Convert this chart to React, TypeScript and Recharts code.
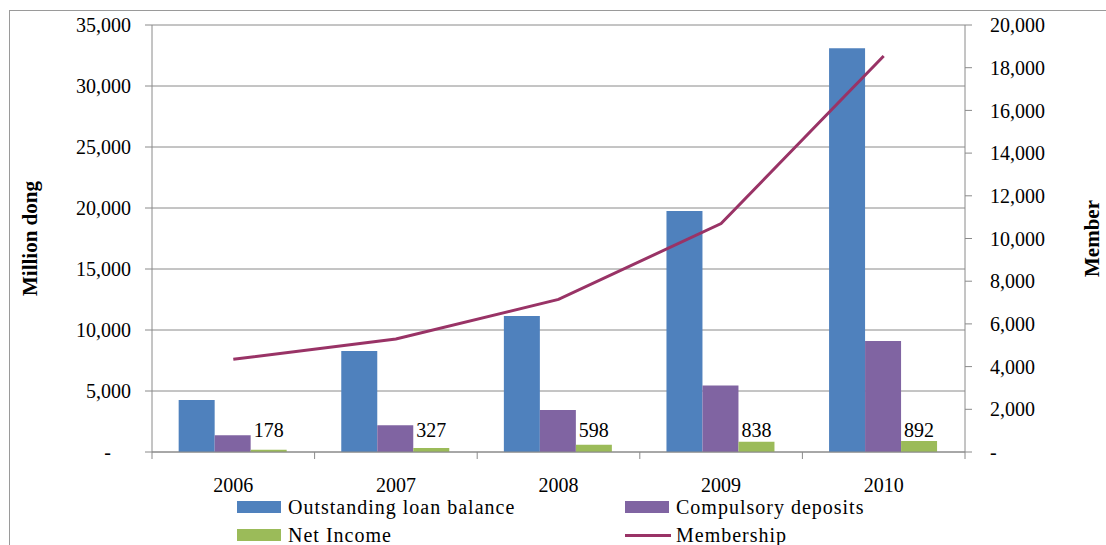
import React from 'react';
import { ComposedChart, Bar, Line, XAxis, YAxis, CartesianGrid, Legend, LabelList } from 'recharts';

// Yearly figures (million dong, members)
const years = ['2006', '2007', '2008', '2009', '2010'];
const loanBalance = [4260, 8280, 11150, 19750, 33100];
const compulsoryDeposits = [1380, 2200, 3440, 5450, 9100];
const netIncome = [178, 327, 598, 838, 892];
const membership = [4340, 5290, 7150, 10700, 18550];

const moneyTicks = [0, 5000, 10000, 15000, 20000, 25000, 30000, 35000];
const memberTicks = [0, 2000, 4000, 6000, 8000, 10000, 12000, 14000, 16000, 18000, 20000];

const data = years.map((year, i) => ({
  year,
  loan: loanBalance[i],
  deposits: compulsoryDeposits[i],
  income: netIncome[i],
  members: membership[i],
}));

const FONT = '"Liberation Serif", "Times New Roman", serif';
const GRID = '#8a8a8a';
const BLUE = '#4f81bd';
const PURPLE = '#8064a2';
const GREEN = '#9bbb59';
const PLUM = '#993366';

const WIDTH = 1106;
const HEIGHT = 545;
const margin = { top: 25, right: 41, bottom: 53, left: 52 };
const AXIS_W = 100;
const XAXIS_H = 40;
const PLOT_LEFT = margin.left + AXIS_W;
const PLOT_RIGHT = WIDTH - margin.right - AXIS_W;
const AXIS_Y = HEIGHT - margin.bottom - XAXIS_H;
const BAND = (PLOT_RIGHT - PLOT_LEFT) / years.length;

const fmt = (v: number) => (v === 0 ? '-\u00a0\u00a0\u00a0\u00a0' : v.toLocaleString('en-US'));
const fmtRight = (v: number) => (v === 0 ? '-' : v.toLocaleString('en-US'));

// category labels centred, tick marks on the category boundaries
const CategoryTick = (props: any) => {
  const { x, payload, index } = props;
  const left = x - BAND / 2;
  return (
    <g>
      <line x1={left} x2={left} y1={AXIS_Y} y2={AXIS_Y + 7} stroke={GRID} />
      {index === years.length - 1 && (
        <line x1={x + BAND / 2} x2={x + BAND / 2} y1={AXIS_Y} y2={AXIS_Y + 7} stroke={GRID} />
      )}
      <text x={x} y={AXIS_Y + 39.5} textAnchor="middle" fontSize={20} fontFamily={FONT} fill="#000">
        {payload.value}
      </text>
    </g>
  );
};

const IncomeLabel = (props: any) => {
  const { x, y, width, height, value } = props;
  return (
    <text x={x + width / 2} y={y + height - 15} textAnchor="middle" fontSize={20} fontFamily={FONT} fill="#000">
      {value}
    </text>
  );
};

const axisTitle = (text: string, cx: number) => (props: any) => {
  const vb = props.viewBox;
  const cy = vb.y + vb.height / 2;
  return (
    <text
      x={cx}
      y={cy}
      transform={`rotate(-90 ${cx} ${cy})`}
      textAnchor="middle"
      dominantBaseline="central"
      fontSize={21}
      fontWeight="bold"
      fontFamily={FONT}
      fill="#000"
    >
      {text}
    </text>
  );
};

const legendRows = [
  [
    { name: 'Outstanding loan balance', color: BLUE, kind: 'bar' },
    { name: 'Compulsory deposits', color: PURPLE, kind: 'bar' },
  ],
  [
    { name: 'Net Income', color: GREEN, kind: 'bar' },
    { name: 'Membership', color: PLUM, kind: 'line' },
  ],
];

const ChartLegend = () => (
  <div style={{ fontFamily: FONT, fontSize: 20, letterSpacing: 1, color: '#000' }}>
    {legendRows.map((row, r) => (
      <div key={r} style={{ display: 'flex', height: 28, alignItems: 'center' }}>
        {row.map((item) => (
          <div key={item.name} style={{ width: 388, display: 'flex', alignItems: 'center' }}>
            {item.kind === 'bar' ? (
              <span style={{ width: 44, height: 12, background: item.color, marginRight: 7 }} />
            ) : (
              <span style={{ width: 46, height: 3, background: item.color, marginRight: 5 }} />
            )}
            <span style={{ whiteSpace: 'nowrap' }}>{item.name}</span>
          </div>
        ))}
      </div>
    ))}
  </div>
);

export default function App() {
  return (
    <div style={{ position: 'relative', width: WIDTH, height: HEIGHT, overflow: 'hidden', background: '#fff' }}>
      <style>{'body{margin:0;overflow:hidden}'}</style>
      <div
        style={{
          position: 'absolute',
          left: 9,
          top: 10,
          width: 1200,
          height: 600,
          borderLeft: '1px solid #9a9a9a',
          borderTop: '1px solid #9a9a9a',
        }}
      />
      <ComposedChart
        width={WIDTH}
        height={HEIGHT}
        data={data}
        margin={margin}
        barCategoryGap="16.4%"
        barGap={0}
        style={{ position: 'absolute', left: 0, top: 0 }}
      >
        <CartesianGrid vertical={false} stroke={GRID} yAxisId="left" />
        <XAxis
          dataKey="year"
          height={XAXIS_H}
          axisLine={{ stroke: GRID }}
          tickLine={false}
          tick={(p: any) => <CategoryTick {...p} />}
          interval={0}
        />
        <YAxis
          yAxisId="left"
          width={AXIS_W}
          domain={[0, 35000]}
          ticks={moneyTicks}
          tickFormatter={fmt}
          axisLine={{ stroke: GRID }}
          tickLine={{ stroke: GRID }}
          tickSize={7}
          tickMargin={14}
          tick={{ fontSize: 20, fontFamily: FONT, fill: '#000' }}
          label={{ content: axisTitle('Million dong', 30) }}
        />
        <YAxis
          yAxisId="right"
          orientation="right"
          width={AXIS_W}
          domain={[0, 20000]}
          ticks={memberTicks}
          tickFormatter={fmtRight}
          axisLine={{ stroke: GRID }}
          tickLine={{ stroke: GRID }}
          tickSize={7}
          tickMargin={18}
          tick={{ fontSize: 20, fontFamily: FONT, fill: '#000', textAnchor: 'start' }}
          label={{ content: axisTitle('Member', 1092) }}
        />
        <Bar yAxisId="left" dataKey="loan" name="Outstanding loan balance" fill={BLUE} isAnimationActive={false} />
        <Bar yAxisId="left" dataKey="deposits" name="Compulsory deposits" fill={PURPLE} isAnimationActive={false} />
        <Bar yAxisId="left" dataKey="income" name="Net Income" fill={GREEN} isAnimationActive={false}>
          <LabelList dataKey="income" content={(p: any) => <IncomeLabel {...p} />} />
        </Bar>
        <Line
          yAxisId="right"
          dataKey="members"
          name="Membership"
          type="linear"
          stroke={PLUM}
          strokeWidth={3}
          dot={false}
          activeDot={false}
          isAnimationActive={false}
        />
        <Legend
          layout="horizontal"
          verticalAlign="middle"
          align="center"
          wrapperStyle={{ position: 'absolute', left: 237, top: 493, width: 800, height: 56 }}
          content={() => <ChartLegend />}
        />
      </ComposedChart>
    </div>
  );
}
